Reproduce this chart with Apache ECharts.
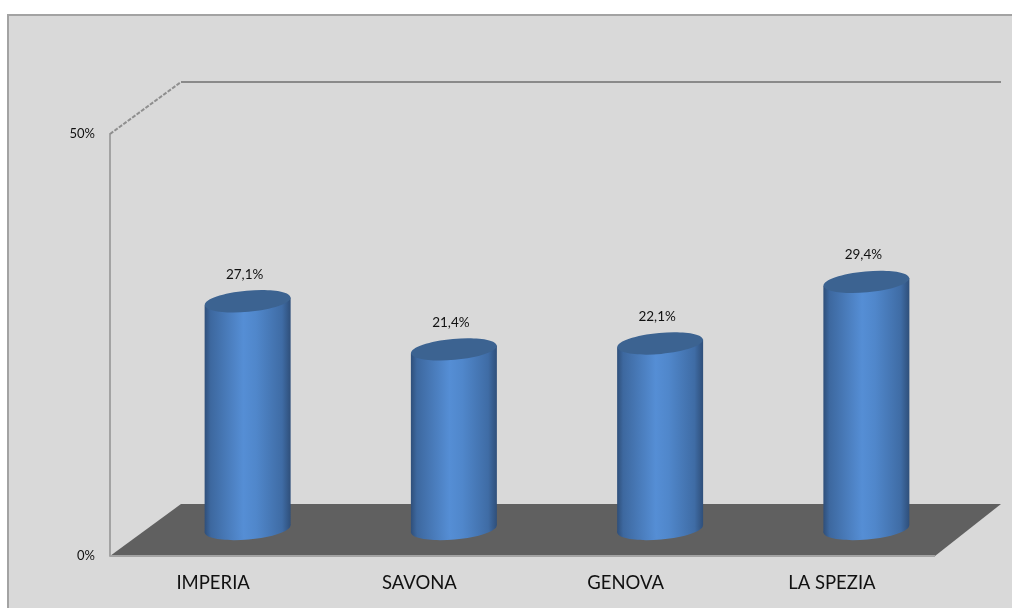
<!DOCTYPE html>
<html><head><meta charset="utf-8">
<style>html,body{margin:0;padding:0;background:#fff}#c{position:absolute;left:0;top:0;width:1012px;height:608px}</style>
<script src="https://cdn.jsdelivr.net/npm/echarts@6/dist/echarts.min.js"></script>
</head><body><div id="c"></div>
<script>
const categories = ["IMPERIA", "SAVONA", "GENOVA", "LA SPEZIA"];
const values = [27.1, 21.4, 22.1, 29.4];
const axisMax = 50;

const DEPTH_X = 71, DEPTH_Y = -52, COL_DX = 34.5, COL_DY = -26, RX = 43, RY = 10.5, TILT = 0.09;
const fmt = v => v.toFixed(1).replace('.', ',') + '%';
const bodyFill = {type:'linear',x:0,y:0,x2:1,y2:0,colorStops:[
  {offset:0,color:'#2f4f7a'},{offset:0.07,color:'#3d689f'},{offset:0.45,color:'#558ed5'},
  {offset:0.6,color:'#5087cb'},{offset:0.9,color:'#3f6ca5'},{offset:1,color:'#2f4f7a'}]};

const chart = echarts.init(document.getElementById('c'), null, {renderer:'canvas'});
chart.setOption({
  animation:false,
  backgroundColor:'#fff',
  textStyle:{fontFamily:'Lato'},
  graphic:[{type:'rect',z:-10,silent:true,shape:{x:8,y:15,width:1010,height:600},
    style:{fill:'#d9d9d9',stroke:'#a3a3a3',lineWidth:2}}],
  grid:{left:110,top:134,width:825,height:422,containLabel:false},
  xAxis:{type:'category',data:categories,axisTick:{show:false},
    axisLine:{show:false},
    axisLabel:{color:'#111',fontSize:18.5,margin:18,fontFamily:'Lato'}},
  yAxis:{type:'value',min:0,max:axisMax,interval:50,splitLine:{show:false},
    axisLine:{show:true,lineStyle:{color:'#a3a3a3',width:2}},axisTick:{show:false},
    axisLabel:{color:'#111',fontSize:13,margin:15,formatter:v=>v+'%',fontFamily:'Lato',padding:[2,0,0,0]}},
  series:[
    {type:'custom',z:1,silent:true,clip:false,data:[0],
     renderItem(p,api){
       const g=p.coordSys, x0=g.x, x1=g.x+g.width, y0=g.y+g.height, yt=g.y;
       return {type:'group',children:[
         {type:'polygon',shape:{points:[[x0,y0],[x0+DEPTH_X,y0+DEPTH_Y],[x1+66,y0+DEPTH_Y],[x1,y0]]},style:{fill:'#606060'}},
         {type:'line',shape:{x1:x0,y1:y0,x2:x1,y2:y0},style:{stroke:'#a3a3a3',lineWidth:2}},
         {type:'line',shape:{x1:x0,y1:yt,x2:x0+DEPTH_X,y2:yt+DEPTH_Y},style:{stroke:'#8f8f8f',lineWidth:2,lineDash:[4,1.5]}},
         {type:'line',shape:{x1:x0+DEPTH_X,y1:yt+DEPTH_Y,x2:x1+66,y2:yt+DEPTH_Y},style:{stroke:'#8a8a8a',lineWidth:2}}
       ]};
     }},
    {type:'custom',z:2,silent:true,clip:false,
     data:values.map((v,i)=>[i,v]),
     renderItem(p,api){
       const base=api.coord([api.value(0),0]), top=api.coord([api.value(0),api.value(1)]);
       const cx=base[0]+COL_DX, by=base[1]+COL_DY, ty=top[1]+COL_DY;
       const dy=RX*Math.sin(TILT);
       const ell=(y,style)=>({type:'ellipse',originX:cx,originY:y,rotation:TILT,
         shape:{cx:cx,cy:y,rx:RX,ry:RY},style});
       return {type:'group',children:[
         ell(by-1,{fill:bodyFill}),
         {type:'polygon',shape:{points:[[cx-RX,ty+dy],[cx+RX,ty-dy],[cx+RX,by-1-dy],[cx-RX,by-1+dy]]},style:{fill:bodyFill}},
         ell(ty,{fill:'#3c6391'}),
         {type:'text',style:{text:fmt(api.value(1)),x:cx-3,y:ty-27,align:'center',verticalAlign:'middle',
           fill:'#111',font:'13.5px Lato'}}
       ]};
     }}
  ]
});
</script></body></html>
